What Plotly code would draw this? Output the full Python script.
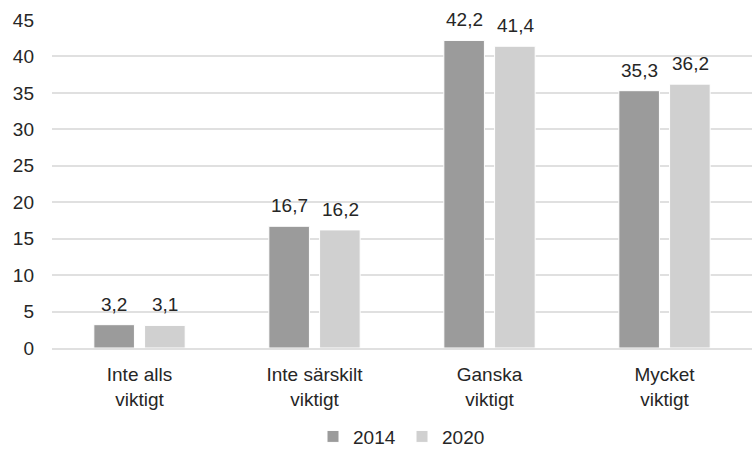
import plotly.graph_objects as go

categories = ["Inte alls<br>viktigt", "Inte särskilt<br>viktigt", "Ganska<br>viktigt", "Mycket<br>viktigt"]
values_2014 = [3.2, 16.7, 42.2, 35.3]
values_2020 = [3.1, 16.2, 41.4, 36.2]
y_ticks = [0, 5, 10, 15, 20, 25, 30, 35, 40, 45]


def fmt(v):
    # svensk decimalkomma
    return f"{v:.1f}".replace(".", ",")


fig = go.Figure()

fig.add_trace(go.Bar(
    x=categories,
    y=values_2014,
    name="2014",
    marker=dict(color="#9b9b9b", line=dict(color="#ffffff", width=1)),
))

fig.add_trace(go.Bar(
    x=categories,
    y=values_2020,
    name="2020",
    marker=dict(color="#d0d0d0", line=dict(color="#ffffff", width=1)),
))

# värdeetiketter ovanför staplarna
for vals, shift in [(values_2014, -25.5), (values_2020, 25.5)]:
    for cat, v in zip(categories, vals):
        fig.add_annotation(
            x=cat, y=v, text=fmt(v),
            showarrow=False,
            xshift=shift, yshift=8,
            yanchor="bottom",
            font=dict(size=19, color="#262626"),
        )

fig.update_layout(
    width=754,
    height=449,
    barmode="group",
    bargap=0.42,
    bargroupgap=0.2,
    plot_bgcolor="white",
    paper_bgcolor="white",
    margin=dict(l=52, r=2, t=20, b=101, autoexpand=False),
    font=dict(family="Liberation Sans, Arial, sans-serif", size=19, color="#262626"),
    showlegend=True,
    legend=dict(
        orientation="h",
        x=0.5,
        xanchor="center",
        y=-0.27,
        yanchor="middle",
        font=dict(size=19),
        itemwidth=30,
        entrywidth=44,
        entrywidthmode="pixels",
    ),
)

fig.update_yaxes(
    range=[0, 45],
    tickvals=y_ticks,
    showgrid=True,
    gridcolor="#e0e0e0",
    gridwidth=2,
    zeroline=False,
    showline=False,
    ticks="",
    ticklabelstandoff=17,
)
fig.update_xaxes(
    showgrid=False,
    showline=True,
    linecolor="#e0e0e0",
    linewidth=2,
    ticks="",
    ticklabelstandoff=8,
)

fig.write_html(
    "out.html",
    config={"displayModeBar": False},
    post_script="document.body.style.margin='0';",
)
